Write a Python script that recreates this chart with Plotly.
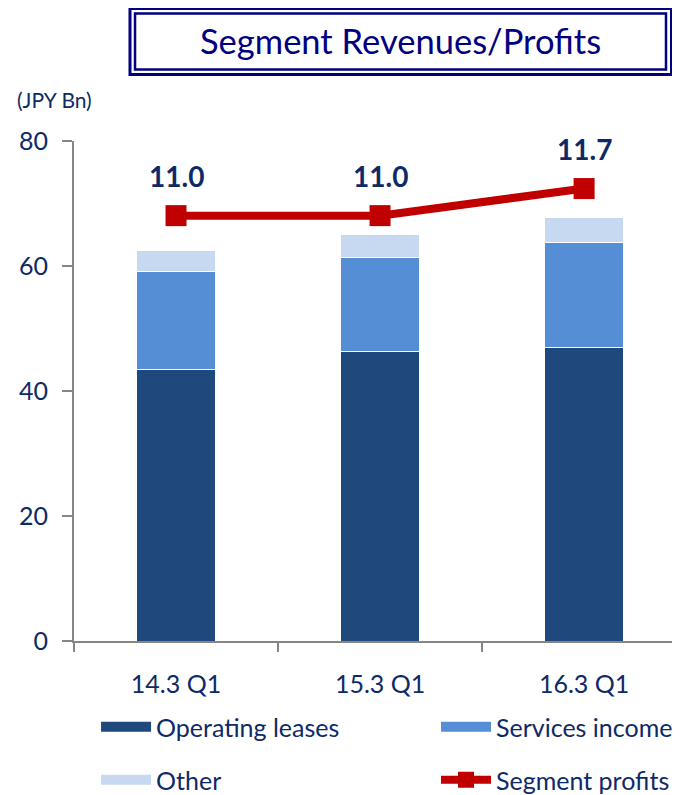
import plotly.graph_objects as go

categories = ["14.3 Q1", "15.3 Q1", "16.3 Q1"]
operating_leases = [43.5, 46.3, 46.9]
services_income = [15.7, 15.0, 16.8]
other = [3.3, 3.8, 4.0]
segment_profits = [11.0, 11.0, 11.7]
profit_labels = ["11.0", "11.0", "11.7"]
y_ticks = [0, 20, 40, 60, 80]

NAVY = "#0E2A66"
GRAY = "#868686"
FONT = "Lato"

fig = go.Figure()

bar_series = [
    ("Operating leases", operating_leases, "#1F497D", "legend"),
    ("Services income", services_income, "#558ED5", "legend2"),
    ("Other", other, "#C6D9F1", "legend3"),
]
for name, vals, color, lg in bar_series:
    fig.add_trace(go.Bar(
        x=categories, y=vals, name=name,
        marker=dict(color=color, line=dict(color="white", width=1)),
        width=0.39, showlegend=False, hoverinfo="skip",
    ))
    # legend proxy (wide swatch)
    fig.add_trace(go.Scatter(
        x=[None], y=[None], mode="lines", name=name,
        line=dict(color=color, width=12), legend=lg,
    ))

fig.add_trace(go.Scatter(
    x=categories, y=segment_profits, name="Segment profits", yaxis="y2",
    mode="lines+markers",
    line=dict(color="#C00000", width=8),
    marker=dict(symbol="square", size=21, color="#C00000"),
    legend="legend4",
))

for c, v, t in zip(categories, segment_profits, profit_labels):
    fig.add_annotation(x=c, y=v, yref="y2", text=t, showarrow=False,
                       yshift=40, font=dict(family=FONT, size=28, color=NAVY, weight="bold"))

# Title box (double border)
fig.add_shape(type="rect", xref="paper", yref="paper",
              x0=0.0924, x1=0.986, y0=1.133, y1=1.265,
              line=dict(color="#000080", width=3))
fig.add_shape(type="rect", xref="paper", yref="paper",
              x0=0.1007, x1=0.9769, y0=1.143, y1=1.255,
              line=dict(color="#000080", width=2.5))
fig.add_annotation(xref="paper", yref="paper", x=0.538, y=1.202,
                   text="Segment Revenues/Profits", showarrow=False,
                   xanchor="center", yanchor="middle",
                   font=dict(family=FONT, size=34.5, color="#000080"))
fig.add_annotation(xref="paper", yref="paper", x=-0.0974, y=1.082,
                   text="(JPY Bn)", showarrow=False,
                   xanchor="left", yanchor="middle",
                   font=dict(family=FONT, size=21, color=NAVY))

legend_common = dict(orientation="h", xanchor="left", yanchor="middle",
                     itemwidth=50,
                     font=dict(family=FONT, size=25, color=NAVY),
                     bgcolor="rgba(0,0,0,0)")

# page body has an 8px margin: offset figure so plot area lands at x 74..680, y 141..641
fig.update_layout(
    width=672, height=787,
    margin=dict(l=66, r=0, t=133, b=154, autoexpand=False),
    paper_bgcolor="white", plot_bgcolor="white",
    barmode="stack",
    font=dict(family=FONT, color=NAVY),
    xaxis=dict(
        type="category", categoryorder="array", categoryarray=categories,
        range=[-0.5, 2.47], tickson="boundaries", ticks="outside",
        ticklen=9, tickwidth=2, tickcolor=GRAY,
        showline=True, linecolor=GRAY, linewidth=2,
        showgrid=False, zeroline=False,
        tickfont=dict(family=FONT, size=25, color=NAVY),
        ticklabelstandoff=20,
    ),
    yaxis=dict(
        range=[0, 80], tickvals=y_ticks, ticks="outside",
        ticklen=10, tickwidth=2, tickcolor=GRAY,
        showline=True, linecolor=GRAY, linewidth=2,
        showgrid=False, zeroline=False,
        tickfont=dict(family=FONT, size=25, color=NAVY),
        ticklabelstandoff=9,
    ),
    yaxis2=dict(overlaying="y", range=[0, 12.93], visible=False),
    legend=dict(x=0.0364, y=-0.172, **legend_common),
    legend2=dict(x=0.5974, y=-0.172, **legend_common),
    legend3=dict(x=0.0364, y=-0.278, **legend_common),
    legend4=dict(x=0.5974, y=-0.278, **legend_common),
    showlegend=True,
)

fig.write_html("out.html")
